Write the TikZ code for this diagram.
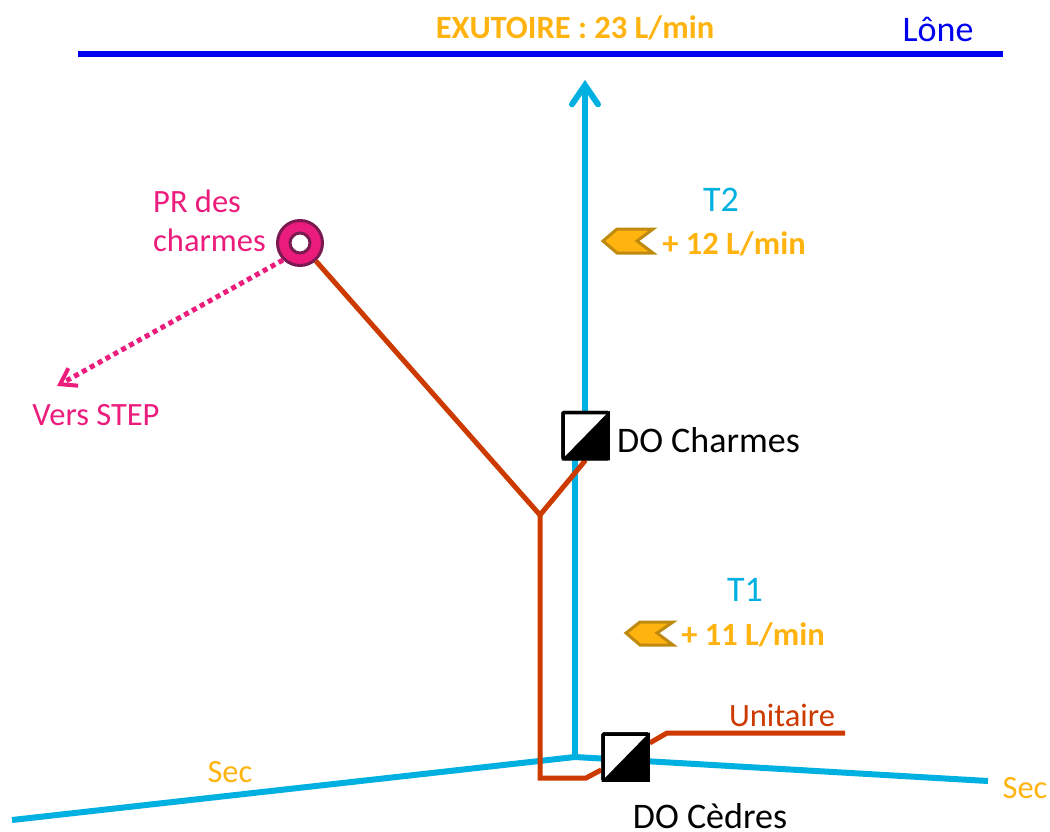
\documentclass[tikz,border=0pt]{standalone}
\usepackage{fontspec}
\setmainfont{Carlito}
\usetikzlibrary{arrows.meta,calc}
\definecolor{lone}{HTML}{0000F0}
\definecolor{cyanp}{HTML}{00B0E0}
\definecolor{redp}{HTML}{CC3A00}
\definecolor{pinkp}{HTML}{EC1C7C}
\definecolor{pinkd}{HTML}{7A1A50}
\definecolor{orangep}{HTML}{FFB30F}
\definecolor{oranged}{HTML}{BF8A10}
\tikzset{
 x=1pt,y=-1pt,
 lbl/.style={font=\fontsize{32.5}{39}\selectfont,inner sep=0pt,anchor=center},
 big lbl/.style={lbl,font=\fontsize{36}{40}\selectfont},
 bold lbl/.style={lbl,font=\fontsize{32.5}{39}\selectfont\bfseries,text=orangep},
 cyanline/.style={draw=cyanp,line width=6pt},
 redline/.style={draw=redp,line width=5pt,line join=miter},
 dobox/.style={draw=black,line width=3.5pt,fill=white,rounded corners=1pt,minimum width=45pt,minimum height=46pt,inner sep=0pt},
 tagshape/.style={draw=oranged,line width=3pt,fill=orangep,line join=miter}
}
\begin{document}
\begin{tikzpicture}
\useasboundingbox (0,0) rectangle (1050,832);
% named points
\coordinate (loneL) at (78,54);
\coordinate (loneR) at (1003,54);
\coordinate (secL) at (12,820);
\coordinate (secJ) at (575,757);
\coordinate (secR) at (988,781);
\coordinate (t1top) at (575,440);
\coordinate (t2bot) at (585,430);
\coordinate (t2top) at (585,80);
\coordinate (redY) at (540,515);
\coordinate (redB) at (540,778);
\coordinate (redC) at (586,778);
\coordinate (redD) at (667,733);
\coordinate (redE) at (845,733);
\coordinate (stepEnd) at (57,386);
% water lines
\draw[draw=lone,line width=6pt] (loneL) -- (loneR);
\draw[cyanline] (secL) -- (secJ) -- (secR);
\draw[cyanline] (secJ) -- (t1top);
\draw[cyanline,-{Straight Barb[length=19pt,width=26pt,line cap=round,line width=6pt]}] (t2bot) -- (t2top);
% PR node first for connectors
\node[circle,draw=pinkd,line width=3pt,fill=pinkp,minimum size=45pt,inner sep=0pt] (pr) at (300,243) {};
\node[circle,draw=pinkd,line width=3pt,fill=white,minimum size=20pt,inner sep=0pt] (prin) at (300,243) {};
\node[dobox] (doch) at (585.5,435.5) {};
\node[dobox] (doce) at (625.5,757) {};
% red network
\draw[redline] (pr) -- (redY) -- (redB) -- (redC) -- (doce);
\draw[redline] (redY) -- (doch.south);
\draw[redline] (doce) -- (redD) -- (redE);
% redraw boxes on top
\node[dobox] (doch2) at (585.5,435.5) {};
\node[dobox] (doce2) at (625.5,757) {};
\fill[black] (doch2.north east) -- (doch2.south west) -- (doch2.south east) -- cycle;
\fill[black] (doce2.north east) -- (doce2.south west) -- (doce2.south east) -- cycle;
% dotted
\draw[draw=pinkp,line width=5pt,dash pattern=on 5pt off 4pt,-{Straight Barb[length=15pt,width=20pt,line width=4pt]}] (pr) ++(-17,17) coordinate (ds) (ds) -- (stepEnd);
% tags
\draw[tagshape] (603,241) -- (617,229) -- (653,229) -- (637,241) -- (653,253) -- (617,253) -- cycle;
\draw[tagshape] (626,633) -- (640,622) -- (673,622) -- (657,633) -- (673,645) -- (640,645) -- cycle;
% text
\node[bold lbl] (exu) at (575,28) {EXUTOIRE : 23 L/min};
\node[big lbl,text=lone] (lonet) at (938,29) {Lône};
\node[big lbl,text=cyanp] (t2) at (721,200) {T2};
\node[bold lbl] (q2) at (734,244) {+ 12 L/min};
\node[big lbl,text=cyanp] (t1) at (745,590) {T1};
\node[bold lbl] (q1) at (753,635) {+ 11 L/min};
\node[lbl,text=pinkp,align=left,anchor=west] (prt) at (153,221) {PR des\\charmes};
\node[lbl,text=pinkp] (vs) at (96,415) {Vers STEP};
\node[big lbl,text=black] (dc) at (708.5,440) {DO Charmes};
\node[big lbl,text=black,anchor=base] (dd) at (710,828) {DO Cèdres};
\node[lbl,text=redp] (un) at (782,715) {Unitaire};
\node[lbl,text=orangep] (s1) at (230,772) {Sec};
\node[lbl,text=orangep] (s2) at (1025,788) {Sec};
\end{tikzpicture}
\end{document}
